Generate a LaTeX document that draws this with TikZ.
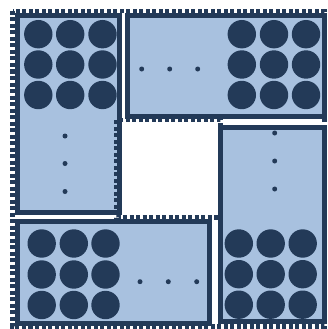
\documentclass[tikz,border=0pt]{standalone}
\definecolor{navy}{HTML}{233A58}
\definecolor{pale}{HTML}{A8C1DF}
\begin{document}
\begin{tikzpicture}[x=1pt,y=-1pt,
  panel/.style={fill=pale},
  rim/.style={draw=navy,line width=5pt},
  dashrim/.style={draw=navy,line width=4.5pt,dash pattern=on 4pt off 2.5pt},
  ball/.style={fill=navy},
  dotmark/.style={fill=navy}]
\useasboundingbox (0,0) rectangle (327,329);
% panel fills
\fill[panel] (17,15.5) rectangle (119.5,212);
\fill[panel] (127,15.5) rectangle (324,116.5);
\fill[panel] (220.5,127.5) rectangle (324,321.5);
\fill[panel] (17.5,221.5) rectangle (209.5,323.5);
% dashed outlines
\draw[dashrim] (12.5,11) rectangle (324.5,326.5);
\draw[dashrim] (116.5,120) rectangle (220.5,217.5);
% solid borders
\draw[rim] (17,15.5) rectangle (119.5,212);
\draw[rim] (127,15.5) rectangle (324,116.5);
\draw[rim] (220.5,127.5) rectangle (324,321.5);
\draw[rim] (17.5,221.5) rectangle (209.5,323.5);
% circle grids
\foreach \x in {38.3,70.2,102.5}\foreach \y in {34.2,64.5,95}{\fill[ball] (\x,\y) circle (14.2);}
\foreach \x in {241.8,274,306}\foreach \y in {34.2,64.5,95}{\fill[ball] (\x,\y) circle (14.2);}
\foreach \x in {238.8,270.7,302.7}\foreach \y in {243.5,274.2,304.7}{\fill[ball] (\x,\y) circle (14.2);}
\foreach \x in {41.7,73.8,105.5}\foreach \y in {243.5,274.5,305}{\fill[ball] (\x,\y) circle (14.2);}
% ellipsis dots
\foreach \y in {136,163.5,191.5}{\fill[dotmark] (65,\y) circle (2.5);}
\foreach \x in {141.7,169.7,197.7}{\fill[dotmark] (\x,69) circle (2.5);}
\foreach \y in {133,161,189}{\fill[dotmark] (274.7,\y) circle (2.5);}
\foreach \x in {140,168.3,196.7}{\fill[dotmark] (\x,281.7) circle (2.5);}
\end{tikzpicture}
\end{document}
